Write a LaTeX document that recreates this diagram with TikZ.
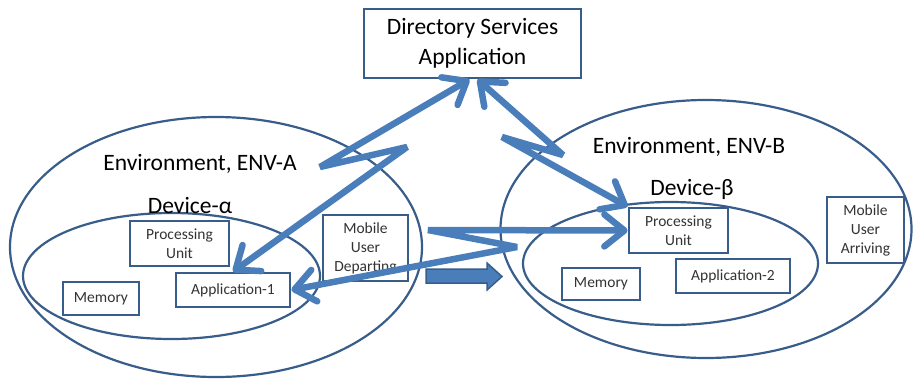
\documentclass[tikz,border=0pt]{standalone}
\usepackage{fontspec}
\setmainfont{Carlito}
\usepackage{tikz}
\usetikzlibrary{shapes.geometric, arrows.meta, positioning, calc}

\definecolor{edgeblue}{RGB}{56,93,138}
\definecolor{boltblue}{RGB}{74,126,187}

\begin{document}
\begin{tikzpicture}[
    x=1pt, y=-1pt,
    envring/.style={ellipse, draw=edgeblue, line width=2.2pt, inner sep=0pt},
    unitbox/.style={rectangle, draw=edgeblue, fill=white, line width=2.8pt, inner sep=0pt, align=center, font=\fontsize{15.5}{19}\selectfont, text=black!80},
    biglabel/.style={font=\fontsize{23.5}{28}\selectfont, align=center},
    bolt/.style={draw=boltblue, line width=6.5pt, line join=miter, miter limit=2,
        {Straight Barb[length=20pt, width=32pt, round]}-{Straight Barb[length=20pt, width=32pt, round]}}
]
\useasboundingbox (0,0) rectangle (913,378);

% Environments and devices
\node[envring, minimum width=412pt, minimum height=260pt] (envA) at (216,247) {};
\node[envring, minimum width=297pt, minimum height=126pt] (devA) at (171.5,276) {};
\node[envring, minimum width=411pt, minimum height=258pt] (envB) at (706,229) {};
\node[envring, minimum width=295pt, minimum height=123pt] (devB) at (670.5,263.5) {};

\node[biglabel] (envAlbl) at (200,164) {Environment, ENV-A};
\node[biglabel] (devAlbl) at (190,205) {Device-α};
\node[biglabel] (envBlbl) at (689,147) {Environment, ENV-B};
\node[biglabel] (devBlbl) at (692,189) {Device-β};

% Directory
\node[unitbox, font=\fontsize{23.5}{30}\selectfont, text=black, minimum width=217pt, minimum height=69pt] (dir) at (472.5,43.5) {Directory Services\\Application};

% Device-alpha units
\node[unitbox, minimum width=99pt, minimum height=45pt] (puA) at (179.5,243.5) {Processing\\Unit};
\node[unitbox, minimum width=76pt, minimum height=33pt] (memA) at (101,298.5) {Memory};
\node[unitbox, minimum width=114pt, minimum height=34pt] (app1) at (233,290) {Application-1};
\node[unitbox, minimum width=85pt, minimum height=66pt] (mudep) at (365.5,248) {Mobile\\User\\Departing};

% Device-beta units
\node[unitbox, minimum width=99pt, minimum height=45pt] (puB) at (678.5,230.5) {Processing\\Unit};
\node[unitbox, minimum width=78pt, minimum height=32pt] (memB) at (601,284) {Memory};
\node[unitbox, minimum width=114pt, minimum height=34pt] (app2) at (733,276) {Application-2};
\node[unitbox, minimum width=77pt, minimum height=66pt] (muarr) at (865.5,230) {Mobile\\User\\Arriving};

% Bend points
\coordinate (b1a) at (407,147);
\coordinate (b1b) at (320,167);
\coordinate (b2a) at (563,155);
\coordinate (b2b) at (502,137);
\coordinate (b3a) at (517,247);
\coordinate (b3b) at (428,230);

% Lightning links
\draw[bolt] (app1.north) -- (b1a) -- (b1b) -- ([xshift=-3pt]dir.south);
\draw[bolt] ([xshift=5pt]dir.south) -- (b2a) -- (b2b) -- (puB.north west);
\draw[bolt] (app1.east) -- (b3a) -- (b3b) -- (puB.west);

% Move arrow
\filldraw[fill=boltblue, draw=edgeblue, line width=1.5pt, line join=miter]
    (426,269) -- (487,269) -- (487,263) -- (502,276.5) -- (487,290) -- (487,283) -- (426,283) -- cycle;

\end{tikzpicture}
\end{document}
